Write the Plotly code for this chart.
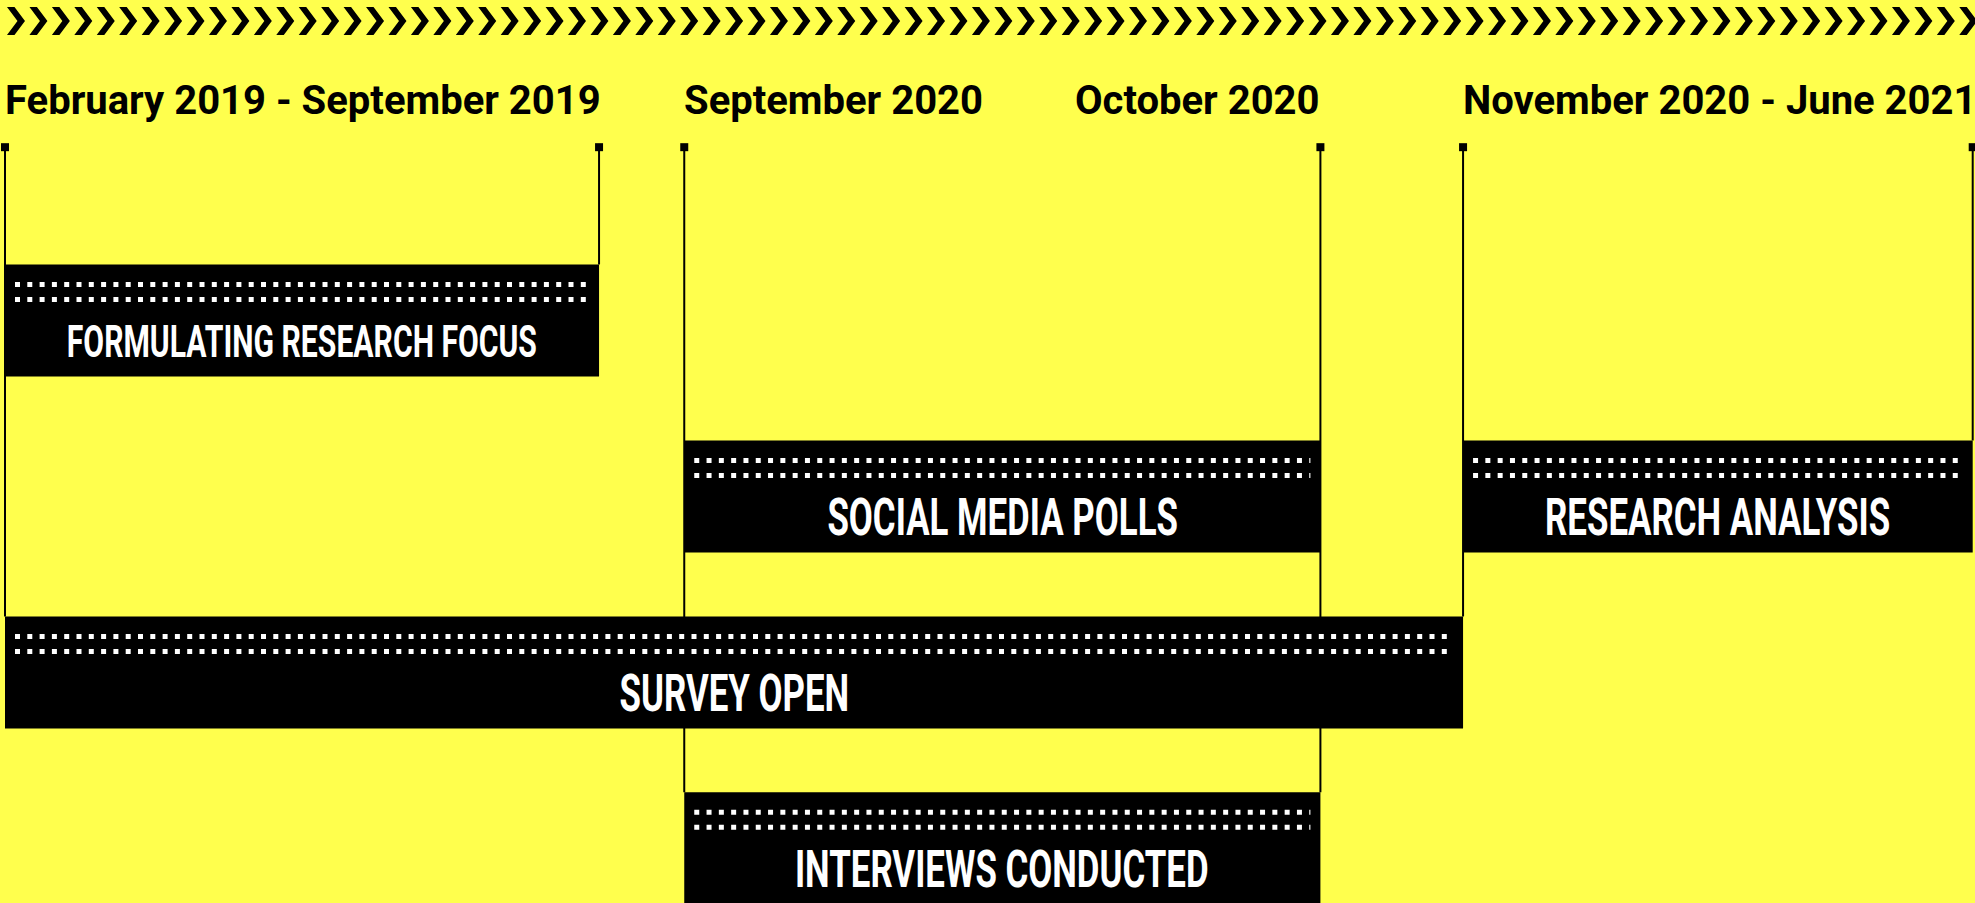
import plotly.graph_objects as go

# ---------------- data ----------------
milestones = ["Feb 2019", "Sep 2019", "Sep 2020", "Oct 2020", "Nov 2020", "Jun 2021"]
# schematic (non-linear) position of each milestone along the timeline, in % of its length
milestone_pos = [0.0, 30.19, 34.52, 66.85, 74.10, 100.0]

phases = ["FORMULATING RESEARCH FOCUS", "SOCIAL MEDIA POLLS", "RESEARCH ANALYSIS",
          "SURVEY OPEN", "INTERVIEWS CONDUCTED"]
phase_start = ["Feb 2019", "Sep 2020", "Nov 2020", "Feb 2019", "Sep 2020"]
phase_end = ["Sep 2019", "Oct 2020", "Jun 2021", "Nov 2020", "Oct 2020"]
phase_row = [1, 2, 2, 3, 4]

date_labels = ["February 2019 - September 2019", "September 2020", "October 2020",
               "November 2020 - June 2021"]
date_label_at = ["Feb 2019", "Sep 2020", "Oct 2020", "Nov 2020"]
date_label_align = ["left", "left", "right", "left"]

# ---------------- styling / layout constants ----------------
W, H = 1975, 903
BG = "#FFFF4D"
INK = "#000000"
X_RANGE = [-0.2541, 100.117]
Y_RANGE = [4.3106, -0.8215]
BAR_W = 0.6366
PX_X = W / (X_RANGE[1] - X_RANGE[0])
PX_Y = H / (Y_RANGE[0] - Y_RANGE[1])
CONDENSE = 0.67   # horizontal squeeze applied to the bar captions
caption_sizes = [45, 52, 52, 52, 52]

pos = dict(zip(milestones, milestone_pos))
xs = [pos[s] for s in phase_start]
xe = [pos[e] for e in phase_end]

fig = go.Figure()

# bars
fig.add_trace(go.Bar(
    orientation="h", base=xs, x=[b - a for a, b in zip(xs, xe)], y=phase_row,
    width=BAR_W, marker=dict(color=INK, line=dict(width=0)),
    hoverinfo="skip", showlegend=False))

shapes = []
# stems from the top down to the top of the lowest bar attached to each milestone
stem_top = 0.015
for m in milestones:
    rows = [r for r, s, e in zip(phase_row, phase_start, phase_end) if m in (s, e)]
    shapes.append(dict(type="line", xref="x", yref="y", layer="below",
                       x0=pos[m], x1=pos[m], y0=stem_top, y1=max(rows) - BAR_W / 2,
                       line=dict(color=INK, width=2)))

# stem caps
fig.add_trace(go.Scatter(
    x=milestone_pos, y=[stem_top] * len(milestones), mode="markers",
    marker=dict(symbol="square", size=8, color=INK, line=dict(width=0)),
    hoverinfo="skip", showlegend=False))

# dotted rows inside each bar
inset = 10 / PX_X
for a, b, r in zip(xs, xe, phase_row):
    for off in (-36, -21):
        yy = r + off / PX_Y
        shapes.append(dict(type="line", xref="x", yref="y",
                           x0=a + inset, x1=b - inset, y0=yy, y1=yy,
                           line=dict(color="white", width=5, dash="5px,7.3px")))

# chevron band at the top (decoration, pixel based -> paper)
path = ""
step = 22.44
for i in range(88):
    x = 7 + i * step
    pts = [(x, 7), (x + 7.5, 7), (x + 18, 21), (x + 7.5, 35), (x, 35), (x + 10.5, 21)]
    path += "M" + "L".join(f"{px / W:.5f},{1 - py / H:.5f}" for px, py in pts) + "Z"
shapes.append(dict(type="path", xref="paper", yref="paper", path=path,
                   fillcolor=INK, line=dict(width=0)))

annotations = []
for lab, at, al in zip(date_labels, date_label_at, date_label_align):
    annotations.append(dict(
        x=pos[at], y=1 - 100 / H, xref="x", yref="paper", text=lab, showarrow=False,
        xanchor=al, yanchor="middle", xshift=-2 if al == "left" else 2,
        font=dict(family="Roboto", size=40, color=INK, weight=700)))

n_date = len(annotations)
for name, a, b, r, fs in zip(phases, xs, xe, phase_row, caption_sizes):
    annotations.append(dict(
        x=(a + b) / 2, y=r + 21 / PX_Y, xref="x", yref="y", text=name, showarrow=False,
        xanchor="center", yanchor="middle",
        font=dict(family="Roboto", size=fs, color="white", weight=700)))

fig.update_layout(
    width=W, height=H, margin=dict(l=0, r=0, t=0, b=0),
    paper_bgcolor=BG, plot_bgcolor=BG, barmode="overlay",
    xaxis=dict(range=X_RANGE, visible=False, fixedrange=True),
    yaxis=dict(range=Y_RANGE, visible=False, fixedrange=True),
    shapes=shapes, annotations=annotations, hovermode=False, showlegend=False)

js = """
document.body.style.margin = '0';
var gd = document.getElementById('{plot_id}');
gd.querySelectorAll('g.annotation').forEach(function (g) {
  var idx = parseInt(g.getAttribute('data-index'));
  if (idx >= %d) {
    var t = g.querySelector('text.annotation-text');
    if (t) {
      t.style.transformBox = 'fill-box';
      t.style.transformOrigin = 'center';
      t.style.transform = 'scaleX(%.3f)';
    }
  }
});
""" % (n_date, CONDENSE)

fig.write_html("out.html", post_script=js, config={"displayModeBar": False})
